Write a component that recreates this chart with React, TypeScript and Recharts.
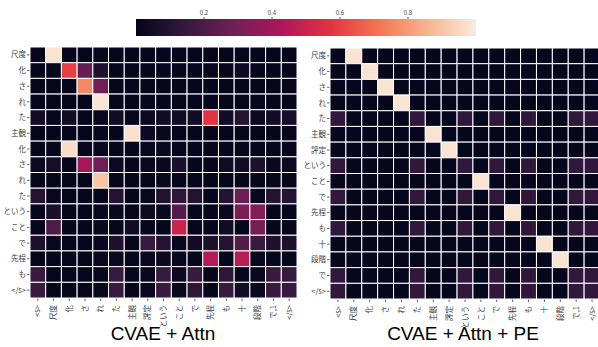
import { ScatterChart, Scatter, XAxis, YAxis, ComposedChart, Line, ReferenceArea } from 'recharts';

const xLabels = ['<s>', '尺度', '化', 'さ', 'れ', 'た', '主観', '評定', 'という', 'こと', 'で', '先程', 'も', '十', '段階', 'で,1', '</s>'];
const attnRows = ['尺度', '化', 'さ', 'れ', 'た', '主観', '化', 'さ', 'れ', 'た', 'という', 'こと', 'で', '先程', 'も', '</s>'];
const peRows = ['尺度', '化', 'さ', 'れ', 'た', '主観', '評定', 'という', 'こと', 'で', '先程', 'も', '十', '段階', 'で', '</s>'];

// attention weights, one row per output token
const attnValues = [
  [0.01, 0.98, 0.01, 0.01, 0.02, 0.01, 0.01, 0.01, 0.01, 0.01, 0.01, 0.01, 0.01, 0.01, 0.01, 0.01, 0.01],
  [0.01, 0.01, 0.60, 0.26, 0.08, 0.01, 0.01, 0.01, 0.01, 0.01, 0.01, 0.02, 0.01, 0.03, 0.01, 0.01, 0.01],
  [0.01, 0.01, 0.01, 0.76, 0.28, 0.01, 0.01, 0.01, 0.01, 0.01, 0.01, 0.01, 0.01, 0.01, 0.01, 0.01, 0.01],
  [0.01, 0.01, 0.01, 0.01, 0.98, 0.01, 0.01, 0.01, 0.01, 0.01, 0.01, 0.01, 0.01, 0.01, 0.01, 0.01, 0.01],
  [0.05, 0.01, 0.05, 0.01, 0.02, 0.05, 0.01, 0.03, 0.04, 0.04, 0.05, 0.57, 0.05, 0.10, 0.03, 0.05, 0.06],
  [0.01, 0.01, 0.01, 0.01, 0.02, 0.01, 0.97, 0.03, 0.02, 0.01, 0.01, 0.01, 0.01, 0.01, 0.01, 0.01, 0.01],
  [0.01, 0.01, 0.96, 0.01, 0.02, 0.01, 0.01, 0.02, 0.02, 0.01, 0.01, 0.01, 0.01, 0.01, 0.01, 0.01, 0.01],
  [0.03, 0.06, 0.01, 0.40, 0.28, 0.03, 0.01, 0.02, 0.02, 0.07, 0.01, 0.01, 0.04, 0.04, 0.08, 0.02, 0.03],
  [0.01, 0.01, 0.01, 0.01, 0.90, 0.01, 0.01, 0.01, 0.02, 0.01, 0.01, 0.01, 0.01, 0.01, 0.01, 0.01, 0.01],
  [0.10, 0.02, 0.01, 0.01, 0.01, 0.10, 0.01, 0.02, 0.09, 0.12, 0.10, 0.01, 0.10, 0.27, 0.02, 0.10, 0.10],
  [0.01, 0.07, 0.01, 0.01, 0.02, 0.02, 0.01, 0.03, 0.02, 0.22, 0.01, 0.01, 0.02, 0.32, 0.33, 0.01, 0.01],
  [0.01, 0.20, 0.01, 0.01, 0.02, 0.01, 0.05, 0.01, 0.01, 0.50, 0.01, 0.01, 0.04, 0.01, 0.30, 0.01, 0.01],
  [0.08, 0.02, 0.01, 0.01, 0.02, 0.08, 0.01, 0.15, 0.10, 0.02, 0.05, 0.08, 0.10, 0.22, 0.15, 0.08, 0.08],
  [0.01, 0.01, 0.01, 0.01, 0.02, 0.02, 0.01, 0.02, 0.02, 0.02, 0.01, 0.45, 0.01, 0.46, 0.02, 0.01, 0.01],
  [0.15, 0.01, 0.01, 0.01, 0.02, 0.15, 0.01, 0.02, 0.15, 0.03, 0.15, 0.01, 0.12, 0.01, 0.02, 0.15, 0.15],
  [0.15, 0.01, 0.01, 0.01, 0.02, 0.15, 0.01, 0.02, 0.15, 0.02, 0.12, 0.01, 0.15, 0.05, 0.02, 0.15, 0.15],
];

const peValues = [
  [0.01, 0.98, 0.01, 0.01, 0.01, 0.01, 0.01, 0.01, 0.01, 0.01, 0.01, 0.01, 0.01, 0.01, 0.01, 0.01, 0.01],
  [0.01, 0.01, 0.98, 0.01, 0.01, 0.01, 0.01, 0.01, 0.01, 0.01, 0.01, 0.01, 0.01, 0.01, 0.01, 0.01, 0.01],
  [0.01, 0.01, 0.01, 0.98, 0.01, 0.01, 0.01, 0.01, 0.01, 0.01, 0.01, 0.01, 0.01, 0.01, 0.01, 0.01, 0.01],
  [0.01, 0.01, 0.01, 0.01, 0.98, 0.01, 0.01, 0.01, 0.01, 0.01, 0.01, 0.01, 0.01, 0.01, 0.01, 0.01, 0.01],
  [0.13, 0.01, 0.01, 0.01, 0.01, 0.13, 0.01, 0.01, 0.13, 0.01, 0.13, 0.01, 0.13, 0.01, 0.01, 0.13, 0.13],
  [0.01, 0.01, 0.01, 0.01, 0.01, 0.01, 0.98, 0.01, 0.01, 0.01, 0.01, 0.01, 0.01, 0.01, 0.01, 0.01, 0.01],
  [0.01, 0.01, 0.01, 0.01, 0.01, 0.01, 0.01, 0.98, 0.01, 0.01, 0.01, 0.01, 0.01, 0.01, 0.01, 0.01, 0.01],
  [0.13, 0.01, 0.01, 0.01, 0.01, 0.13, 0.01, 0.01, 0.13, 0.01, 0.13, 0.01, 0.13, 0.01, 0.01, 0.13, 0.13],
  [0.01, 0.01, 0.01, 0.01, 0.01, 0.01, 0.01, 0.01, 0.01, 0.98, 0.01, 0.01, 0.01, 0.01, 0.01, 0.01, 0.01],
  [0.13, 0.01, 0.01, 0.01, 0.01, 0.13, 0.01, 0.01, 0.13, 0.01, 0.13, 0.01, 0.13, 0.01, 0.01, 0.13, 0.13],
  [0.01, 0.01, 0.01, 0.01, 0.01, 0.01, 0.01, 0.01, 0.01, 0.01, 0.01, 0.98, 0.01, 0.01, 0.01, 0.01, 0.01],
  [0.13, 0.01, 0.01, 0.01, 0.01, 0.13, 0.01, 0.01, 0.13, 0.01, 0.13, 0.01, 0.13, 0.01, 0.01, 0.13, 0.13],
  [0.01, 0.01, 0.01, 0.01, 0.01, 0.01, 0.01, 0.01, 0.01, 0.01, 0.01, 0.01, 0.01, 0.98, 0.01, 0.01, 0.01],
  [0.01, 0.01, 0.01, 0.01, 0.01, 0.01, 0.01, 0.01, 0.01, 0.01, 0.01, 0.01, 0.01, 0.01, 0.98, 0.01, 0.01],
  [0.13, 0.01, 0.01, 0.01, 0.01, 0.13, 0.01, 0.01, 0.13, 0.01, 0.13, 0.01, 0.13, 0.01, 0.01, 0.13, 0.13],
  [0.13, 0.01, 0.01, 0.01, 0.01, 0.13, 0.01, 0.01, 0.13, 0.01, 0.13, 0.01, 0.13, 0.01, 0.01, 0.13, 0.13],
];

const colorbarTicks = [0.2, 0.4, 0.6, 0.8];

// seaborn "rocket"
const rocket: [number, string][] = [
  [0, '#03051a'],
  [0.143, '#35193e'],
  [0.286, '#701f57'],
  [0.429, '#ad1759'],
  [0.571, '#e13342'],
  [0.714, '#f37651'],
  [0.857, '#f6b48f'],
  [1, '#faebdd'],
];

const hex = (h: string) => [1, 3, 5].map((i) => parseInt(h.slice(i, i + 2), 16));

const rocketColor = (v: number) => {
  const t = Math.max(0, Math.min(1, v));
  for (let i = 1; i < rocket.length; i++) {
    if (t <= rocket[i][0]) {
      const [t0, c0] = rocket[i - 1];
      const [t1, c1] = rocket[i];
      const f = (t - t0) / (t1 - t0);
      const a = hex(c0);
      const b = hex(c1);
      const rgb = a.map((x, k) => Math.round(x + (b[k] - x) * f));
      return `rgb(${rgb.join(',')})`;
    }
  }
  return rocket[rocket.length - 1][1];
};

const FONT = '"Noto Sans CJK JP", "DejaVu Sans", sans-serif';
const LABEL = '#3a3a3a';

const toCells = (rows: number[][]) =>
  rows.flatMap((row, r) => row.map((v, c) => ({ x: c + 0.5, y: r + 0.5, v })));

const XTick = ({ x, y, payload }: any) => (
  <g transform={`translate(${x},${y})`}>
    <text transform="rotate(-90)" textAnchor="end" dy="0.35em" fontSize={7.5} style={{ fill: LABEL }} fontFamily={FONT}>
      {xLabels[Math.round(payload.value - 0.5)]}
    </text>
  </g>
);

const makeYTick = (labels: string[]) => ({ x, y, payload }: any) => (
  <text x={x} y={y} dy="0.35em" textAnchor="end" fontSize={7.5} style={{ fill: LABEL }} fontFamily={FONT}>
    {labels[Math.round(payload.value - 0.5)]}
  </text>
);

interface HeatmapProps {
  rows: number[][];
  labels: string[];
  width: number;
  plotWidth: number;
  top: number;
}

const Heatmap = ({ rows, labels, width, plotWidth, top }: HeatmapProps) => {
  const plotHeight = 251;
  const cw = plotWidth / xLabels.length;
  const ch = plotHeight / labels.length;
  const YTick = makeYTick(labels);
  return (
    <ScatterChart
      width={width}
      height={347}
      margin={{ top, right: width - 30 - plotWidth, bottom: 0, left: 0 }}
    >
      <XAxis
        type="number"
        dataKey="x"
        domain={[0, xLabels.length]}
        ticks={xLabels.map((_, i) => i + 0.5)}
        interval={0}
        height={347 - top - plotHeight}
        axisLine={false}
        tickSize={3}
        tickMargin={4}
        tickLine={{ stroke: '#666' }}
        tick={<XTick />}
      />
      <YAxis
        type="number"
        dataKey="y"
        domain={[0, labels.length]}
        reversed
        ticks={labels.map((_, i) => i + 0.5)}
        interval={0}
        width={30}
        axisLine={false}
        tickSize={3}
        tickMargin={1}
        tickLine={{ stroke: '#666' }}
        tick={<YTick />}
      />
      <Scatter
        data={toCells(rows)}
        isAnimationActive={false}
        shape={(p: any) => (
          <rect
            x={p.cx - cw / 2}
            y={p.cy - ch / 2}
            width={cw}
            height={ch}
            fill={rocketColor(p.payload.v)}
            stroke="#fff"
            strokeWidth={1}
          />
        )}
      />
    </ScatterChart>
  );
};

const Colorbar = () => (
  <ComposedChart
    width={350}
    height={40}
    data={[{ x: 0, y: 0 }, { x: 1, y: 1 }]}
    margin={{ top: 0, right: 4, bottom: 4, left: 6 }}
  >
    <XAxis
      type="number"
      dataKey="x"
      orientation="top"
      domain={[0, 1]}
      ticks={colorbarTicks}
      height={19}
      axisLine={false}
      tickSize={2}
      tickLine={{ stroke: '#666' }}
      tick={{ fontSize: 6, fill: '#444', fontFamily: FONT }}
    />
    <YAxis hide domain={[0, 1]} />
    <ReferenceArea x1={0} x2={1} y1={0} y2={1} fill="url(#rocketGrad)" fillOpacity={1} stroke="none" />
    <Line dataKey="y" stroke="none" dot={false} isAnimationActive={false} />
  </ComposedChart>
);

const titleStyle = {
  position: 'absolute' as const,
  width: 200,
  top: 323,
  textAlign: 'center' as const,
  fontSize: 19,
  fontFamily: '"Liberation Sans", Arial, sans-serif',
  color: '#000',
};

export default function App() {
  return (
    <div style={{ position: 'absolute', left: 0, top: 0, width: 598, height: 347, overflow: 'hidden', background: '#fff' }}>
      <svg width={0} height={0} style={{ position: 'absolute' }}>
        <defs>
          <linearGradient id="rocketGrad" x1="0" y1="0" x2="1" y2="0">
            {rocket.map(([o, c]) => (
              <stop key={o} offset={o} stopColor={c} />
            ))}
          </linearGradient>
        </defs>
      </svg>
      <div style={{ position: 'absolute', left: 130, top: 0 }}>
        <Colorbar />
      </div>
      <div style={{ position: 'absolute', left: 0, top: 0 }}>
        <Heatmap rows={attnValues} labels={attnRows} width={300} plotWidth={267} top={47} />
      </div>
      <div style={{ position: 'absolute', left: 300, top: 0 }}>
        <Heatmap rows={peValues} labels={peRows} width={302} plotWidth={270} top={48} />
      </div>
      <div style={{ ...titleStyle, left: 63 }}>CVAE + Attn</div>
      <div style={{ ...titleStyle, left: 363 }}>CVAE + Attn + PE</div>
    </div>
  );
}
